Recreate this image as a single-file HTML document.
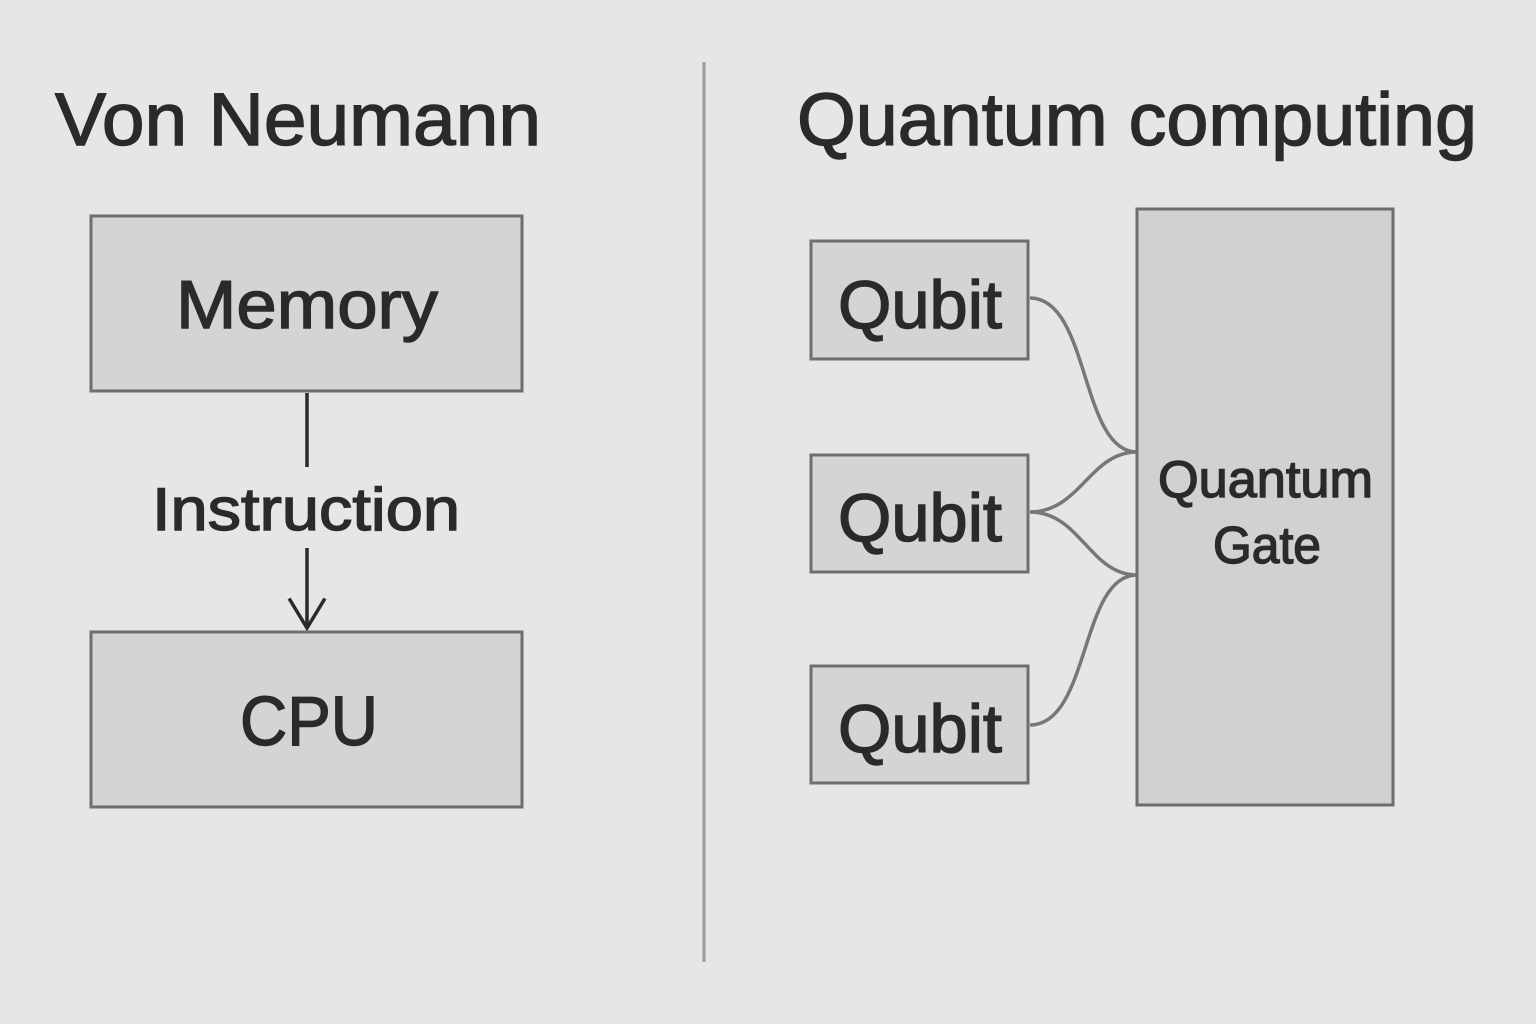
<!DOCTYPE html>
<html><head><meta charset="utf-8"><style>
html,body{margin:0;padding:0;background:#e6e6e6;}
svg{display:block;}
text{font-family:"Liberation Sans",sans-serif;fill:#2a2a2a;stroke:#2a2a2a;stroke-width:1.4px;}
</style></head><body>
<svg width="1536" height="1024" viewBox="0 0 1536 1024" xmlns="http://www.w3.org/2000/svg">
<rect width="1536" height="1024" fill="#e6e6e6"/>
<text x="55" y="145" font-size="74" textLength="486" lengthAdjust="spacingAndGlyphs">Von Neumann</text>
<text x="797" y="145" font-size="74" textLength="680" lengthAdjust="spacingAndGlyphs">Quantum computing</text>
<line x1="704" y1="62" x2="704" y2="962" stroke="#9a9a9a" stroke-width="3"/>

<rect x="91" y="216" width="431" height="175" fill="#d4d4d4" stroke="#6e6e6e" stroke-width="3"/>
<text x="176" y="328" font-size="68" textLength="262" lengthAdjust="spacingAndGlyphs">Memory</text>
<line x1="307" y1="393" x2="307" y2="467" stroke="#2a2a2a" stroke-width="3.5"/>
<text x="152" y="530" font-size="60" textLength="308" lengthAdjust="spacingAndGlyphs">Instruction</text>
<line x1="307" y1="548" x2="307" y2="626" stroke="#2a2a2a" stroke-width="3.5"/>
<polyline points="290,600 307,628 324,600" fill="none" stroke="#2a2a2a" stroke-width="3.5" stroke-linecap="square"/>
<rect x="91" y="632" width="431" height="175" fill="#d4d4d4" stroke="#6e6e6e" stroke-width="3"/>
<text x="240" y="745" font-size="70" textLength="138" lengthAdjust="spacingAndGlyphs">CPU</text>

<g fill="none" stroke="#777" stroke-width="3.5">
<path d="M1030,298 C1090,298 1080,452 1137,452"/>
<path d="M1030,512 C1080,512 1090,452 1137,452"/>
<path d="M1030,512 C1080,512 1090,575 1137,575"/>
<path d="M1030,725 C1090,725 1080,575 1137,575"/>
</g>
<g fill="#d4d4d4" stroke="#6e6e6e" stroke-width="3">
<rect x="811" y="241" width="217" height="118"/>
<rect x="811" y="455" width="217" height="117"/>
<rect x="811" y="666" width="217" height="117"/>
<rect x="1137" y="209" width="256" height="596" fill="#d1d1d1"/>
</g>
<text x="838" y="328" font-size="68" textLength="164" lengthAdjust="spacingAndGlyphs">Qubit</text>
<text x="838" y="541" font-size="68" textLength="164" lengthAdjust="spacingAndGlyphs">Qubit</text>
<text x="838" y="752" font-size="68" textLength="164" lengthAdjust="spacingAndGlyphs">Qubit</text>
<text x="1158" y="497" font-size="52" textLength="215" lengthAdjust="spacingAndGlyphs">Quantum</text>
<text x="1213" y="563" font-size="52" textLength="108" lengthAdjust="spacingAndGlyphs">Gate</text>
</svg>
</body></html>
